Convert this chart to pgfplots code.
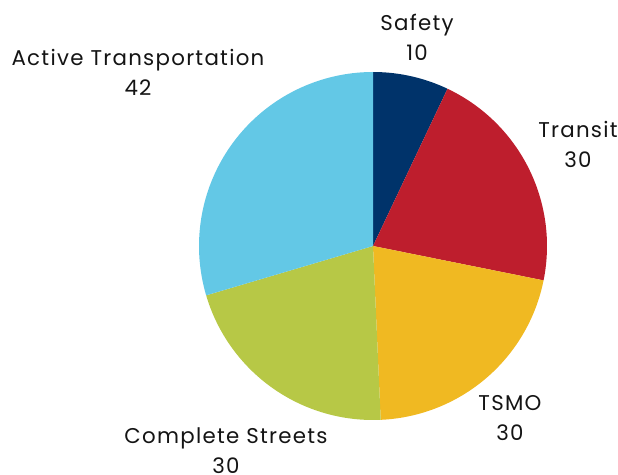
\documentclass[border=0pt]{standalone}
\usepackage{pgfplots}
\usepackage{pgfplotstable}
\pgfplotsset{compat=1.18}
\usepackage{fontspec}
\setmainfont{Poppins}[LetterSpace=6]
\definecolor{cSafety}{HTML}{00336A}
\definecolor{cTransit}{HTML}{BE1E2D}
\definecolor{cTSMO}{HTML}{F0B922}
\definecolor{cCS}{HTML}{B7C846}
\definecolor{cAT}{HTML}{63C8E6}
\pgfplotstableread[col sep=comma]{
label,value,color,lx,ly
Safety,10,cSafety,417,438
Transit,30,cTransit,578,331
TSMO,30,cTSMO,510,57
Complete Streets,30,cCS,226,24
Active Transportation,42,cAT,138,403
}\piedata
\tikzset{lbl/.style={font=\fontsize{16}{22.5}\selectfont, align=center, text=black!92}}
\begin{document}
\begin{tikzpicture}
\begin{axis}[x=0.75pt,y=0.75pt,xmin=0,xmax=618,ymin=0,ymax=475,hide axis,clip=false]
\pgfplotstablegetrowsof{\piedata}\pgfmathtruncatemacro\nlast{\pgfplotsretval-1}
\def\total{0}
\pgfplotsforeachungrouped \i in {0,...,\nlast}{%
  \pgfplotstablegetelem{\i}{value}\of\piedata
  \pgfmathsetmacro\total{\total+\pgfplotsretval}%
}
\def\cum{0}
\pgfplotsforeachungrouped \i in {0,...,\nlast}{%
  \pgfplotstablegetelem{\i}{value}\of\piedata \let\val\pgfplotsretval
  \pgfplotstablegetelem{\i}{color}\of\piedata \let\col\pgfplotsretval
  \pgfplotstablegetelem{\i}{label}\of\piedata \let\lab\pgfplotsretval
  \pgfplotstablegetelem{\i}{lx}\of\piedata \let\lx\pgfplotsretval
  \pgfplotstablegetelem{\i}{ly}\of\piedata \let\ly\pgfplotsretval
  \pgfmathsetmacro\sa{90-\cum/\total*360}%
  \pgfmathsetmacro\ea{90-(\cum+\val)/\total*360}%
  \pgfmathsetmacro\cum{\cum+\val}%
  \edef\temp{\noexpand\addplot[fill=\col, draw=none, domain=\ea:\sa, samples=80, variable=\noexpand\t]
     ({373+174*cos(\noexpand\t)},{229+174*sin(\noexpand\t)}) -- (axis cs:373,229) -- cycle;
     \noexpand\node[lbl] at (axis cs:\lx,\ly) {\lab\noexpand\\\val};}%
  \temp
}
\end{axis}
\pgfresetboundingbox
\useasboundingbox (current axis.south west) rectangle (current axis.north east);
\end{tikzpicture}
\end{document}
